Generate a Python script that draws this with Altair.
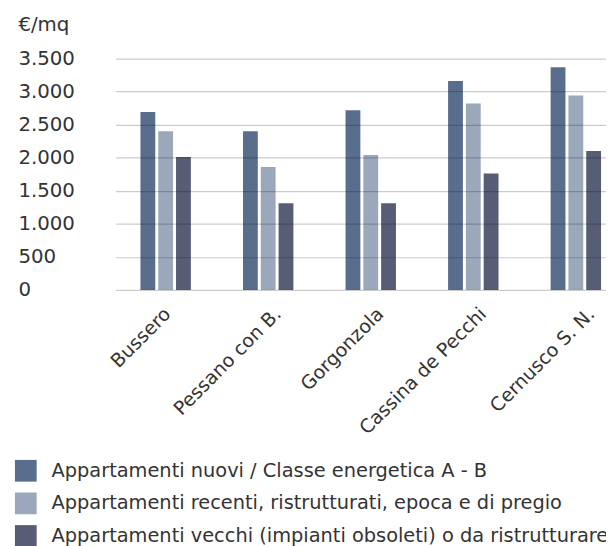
import altair as alt
import pandas as pd

comuni = ["Bussero", "Pessano con B.", "Gorgonzola", "Cassina de Pecchi", "Cernusco S. N."]
tipi = [
    "Appartamenti nuovi / Classe energetica A - B",
    "Appartamenti recenti, ristrutturati, epoca e di pregio",
    "Appartamenti vecchi (impianti obsoleti) o da ristrutturare",
]
nuovi = [2690, 2400, 2720, 3160, 3370]
recenti = [2400, 1860, 2040, 2820, 2940]
vecchi = [2010, 1310, 1310, 1760, 2100]
colori = ["#596E8C", "#9BA8BB", "#575D75"]
y_ticks = [0, 500, 1000, 1500, 2000, 2500, 3000, 3500]

rows = []
for serie, valori in zip(tipi, [nuovi, recenti, vecchi]):
    for c, v in zip(comuni, valori):
        rows.append({"comune": c, "tipo": serie, "valore": v})
df = pd.DataFrame(rows)

FONT = "DejaVu Sans"

label_offset = {
    "condition": [
        {"test": "datum.value === 'Bussero'", "value": 2},
        {"test": "datum.value === 'Cernusco S. N.'", "value": 16},
    ],
    "value": 10,
}

chart = (
    alt.Chart(df)
    .mark_bar()
    .encode(
        x=alt.X(
            "comune:N",
            sort=comuni,
            scale=alt.Scale(paddingInner=0.5084, paddingOuter=0.1446, align=0.833),
            axis=alt.Axis(
                title=None,
                labelAngle=-45,
                labelAlign="right",
                labelBaseline="middle",
                labelPadding=21,
                labelOffset=label_offset,
                labelFontSize=19.2,
                labelFont=FONT,
                labelColor="#333333",
                domain=False,
                ticks=False,
                tickSize=0,
                grid=False,
            ),
        ),
        xOffset=alt.XOffset(
            "tipo:N", sort=tipi, scale=alt.Scale(paddingInner=0.1667, paddingOuter=0)
        ),
        y=alt.Y(
            "valore:Q",
            scale=alt.Scale(domain=[0, 3500], nice=False),
            axis=alt.Axis(
                title="€/mq",
                titleAngle=0,
                titleAlign="left",
                titleBaseline="middle",
                titleX=-99,
                titleY=-34,
                titleFont=FONT,
                titleFontSize=20,
                titleFontWeight="normal",
                titleColor="#333333",
                values=y_ticks,
                labelExpr="replace(format(datum.value, ','), ',', '.')",
                labelAlign="left",
                labelPadding=99,
                labelFont=FONT,
                labelFontSize=20,
                labelColor="#333333",
                domain=False,
                ticks=False,
                tickSize=0,
                grid=True,
                gridColor="#000000",
                gridOpacity=0.2,
                gridWidth=1.2,
                zindex=1,
            ),
        ),
        color=alt.Color(
            "tipo:N",
            sort=tipi,
            scale=alt.Scale(domain=tipi, range=colori),
            legend=alt.Legend(
                title=None,
                orient="none",
                legendX=-102,
                legendY=406,
                direction="vertical",
                symbolType="square",
                symbolSize=484,
                symbolStrokeWidth=0,
                symbolOpacity=1,
                labelFont=FONT,
                labelFontSize=19.6,
                labelColor="#333333",
                labelOffset=15,
                labelLimit=700,
                rowPadding=11,
                padding=0,
            ),
        ),
    )
    .properties(
        width=496,
        height=234,
        padding={"left": 109, "top": 48, "right": 0, "bottom": 262},
        autosize=alt.AutoSizeParams(type="none"),
    )
    .configure_view(stroke=None)
)

chart.save("out.html", embed_options={"renderer": "svg", "actions": False})
